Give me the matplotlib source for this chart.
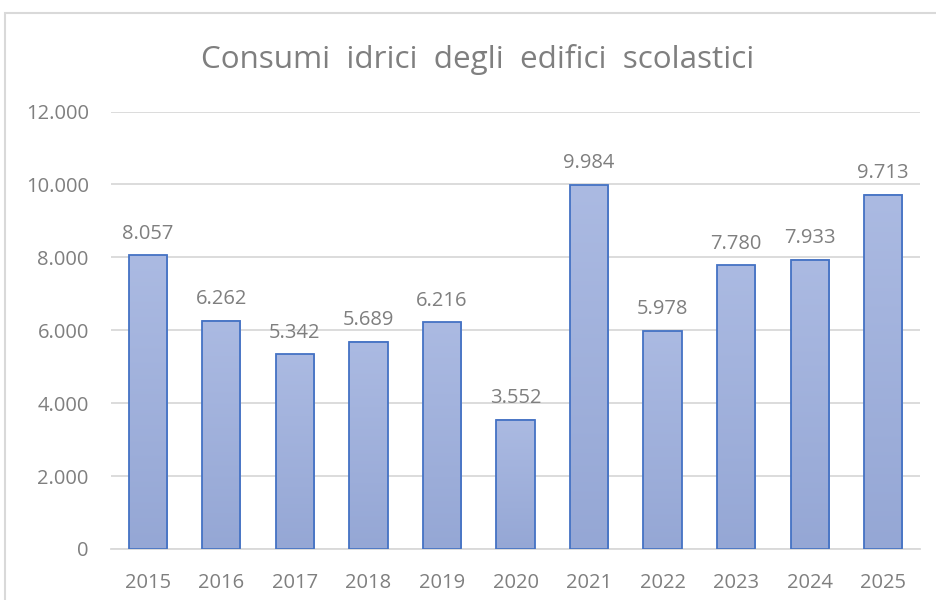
import numpy as np
import matplotlib
matplotlib.use("Agg")
import matplotlib.pyplot as plt
from matplotlib.colors import LinearSegmentedColormap
from matplotlib.patches import Rectangle

# dati
anni = ["2015", "2016", "2017", "2018", "2019", "2020", "2021", "2022", "2023", "2024", "2025"]
consumi = [8057, 6262, 5342, 5689, 6216, 3552, 9984, 5978, 7780, 7933, 9713]
y_ticks = [0, 2000, 4000, 6000, 8000, 10000, 12000]
titolo = "Consumi  idrici  degli  edifici  scolastici"

grigio = "#7F7F7F"
plt.rcParams['font.family'] = ['Open Sans', 'DejaVu Sans']

def fmt_it(v):
    return f"{v:,.0f}".replace(",", ".")

fig = plt.figure(figsize=(9.36, 6.0), dpi=100)
ax = fig.add_axes([111/936, 1 - 549/600, (920 - 111)/936, (549 - 111.5)/600])

# bordo del riquadro (tagliato a destra e in basso)
fig.patches.append(Rectangle((5/936, -0.1), 1.2, 1 - 13/600 + 0.1, transform=fig.transFigure,
                             fill=False, edgecolor="#D9D9D9", linewidth=1.5, zorder=0))

x = np.arange(len(anni))
w = 0.52
cmap = LinearSegmentedColormap.from_list("blu", ["#95A7D5", "#ABBAE2"])
grad = np.linspace(0, 1, 256).reshape(-1, 1)
for xi, v in zip(x, consumi):
    ax.imshow(grad, extent=[xi - w/2, xi + w/2, 0, v], origin="lower", aspect="auto",
              cmap=cmap, zorder=2)
ax.bar(x, consumi, width=w, facecolor="none", edgecolor="#4472C4", linewidth=1.3, zorder=3)

for xi, v in zip(x, consumi):
    ax.annotate(fmt_it(v), (xi, v), xytext=(0, 12), textcoords="offset points",
                ha="center", va="baseline", fontsize=14.5, color=grigio)

ax.set_xlim(-0.5, len(anni) - 0.5)
ax.set_ylim(0, 12000)
ax.set_yticks(y_ticks)
ax.set_yticklabels([fmt_it(t) for t in y_ticks])
ax.set_xticks(x)
ax.set_xticklabels(anni)
ax.tick_params(axis="both", length=0, labelsize=14.5, labelcolor=grigio)
ax.tick_params(axis="x", pad=17)
ax.tick_params(axis="y", pad=16)
ax.grid(axis="y", color="#D9D9D9", linewidth=1.3, zorder=0)
ax.set_axisbelow(True)
for s in ["top", "right", "left"]:
    ax.spines[s].set_visible(False)
ax.spines["bottom"].set_color("#D9D9D9")
ax.spines["bottom"].set_linewidth(1.3)

fig.text(478/936, 1 - 68/600, titolo, ha="center", va="baseline", fontsize=22.6, color=grigio)

fig.savefig("out.png", dpi=100)
